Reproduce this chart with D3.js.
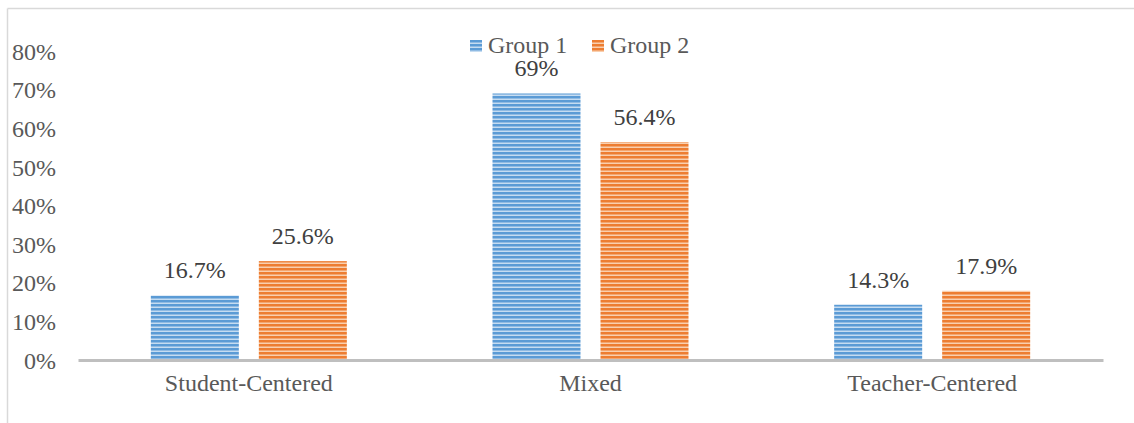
<!DOCTYPE html>
<html>
<head>
<meta charset="utf-8">
<script src="https://cdn.jsdelivr.net/npm/d3@7"></script>
<style>
  html, body { margin: 0; padding: 0; background: #fff; }
  svg { display: block; }
  text { font-family: "Liberation Serif", "Times New Roman", serif; }
</style>
</head>
<body>
<svg id="chart" width="1134" height="423"></svg>
<script>
// Teaching approach shares by group
const categories = ["Student-Centered", "Mixed", "Teacher-Centered"];
const seriesNames = ["Group 1", "Group 2"];
const group1 = [0.167, 0.69, 0.143];
const group2 = [0.256, 0.564, 0.179];
const valueLabels1 = ["16.7%", "69%", "14.3%"];
const valueLabels2 = ["25.6%", "56.4%", "17.9%"];
const yTicks = [0, 0.1, 0.2, 0.3, 0.4, 0.5, 0.6, 0.7, 0.8];

const colors = { "Group 1": ["#5b9bd5", "#c5dcf1"], "Group 2": ["#ed7d31", "#f9cfae"] };
const seriesValues = { "Group 1": group1, "Group 2": group2 };
const seriesLabels = { "Group 1": valueLabels1, "Group 2": valueLabels2 };

const svg = d3.select("#chart");

// Horizontal stripe fills
const defs = svg.append("defs");
seriesNames.forEach((s, i) => {
  const p = defs.append("pattern")
    .attr("id", "stripe" + i)
    .attr("patternUnits", "userSpaceOnUse")
    .attr("width", 8).attr("height", 4);
  p.append("rect").attr("width", 8).attr("height", 4).attr("fill", colors[s][0]);
  p.append("rect").attr("y", 2.5).attr("width", 8).attr("height", 1.5).attr("fill", colors[s][1]);
});

// Outer frame (top and left edges)
svg.append("line").attr("x1", 7.5).attr("x2", 1134).attr("y1", 8.5).attr("y2", 8.5)
  .attr("stroke", "#d9d9d9").attr("stroke-width", 1.5);
svg.append("line").attr("x1", 7.5).attr("x2", 7.5).attr("y1", 8.5).attr("y2", 423)
  .attr("stroke", "#d9d9d9").attr("stroke-width", 1.5);

const x = d3.scaleBand().domain(categories).range([78, 1103]).paddingInner(0).paddingOuter(0);
const xs = d3.scaleBand().domain(seriesNames).range([-98, 98]).paddingInner(20 / 108).paddingOuter(0);
const y = d3.scaleLinear().domain([0, 0.8]).range([360, 51]);

// Y axis labels
const yAxis = svg.append("g").attr("transform", "translate(56,0)")
  .call(d3.axisLeft(y).tickValues(yTicks).tickSize(0).tickPadding(0).tickFormat(d3.format(".0%")));
yAxis.select(".domain").remove();
yAxis.selectAll("text").attr("font-size", 24).attr("fill", "#595959")
  .attr("font-family", "Liberation Serif, serif").attr("dy", "0.34em");

// Bars
seriesNames.forEach((s, si) => {
  const vals = seriesValues[s];
  const g = svg.append("g");
  g.selectAll("rect").data(categories).join("rect")
    .attr("x", (c) => x(c) + x.bandwidth() / 2 + xs(s))
    .attr("y", (c, i) => y(vals[i]))
    .attr("width", xs.bandwidth())
    .attr("height", (c, i) => y(0) - y(vals[i]))
    .attr("fill", "url(#stripe" + si + ")");
  g.selectAll("text").data(categories).join("text")
    .attr("x", (c) => x(c) + x.bandwidth() / 2 + xs(s) + xs.bandwidth() / 2)
    .attr("y", (c, i) => y(vals[i]) - 17)
    .attr("text-anchor", "middle")
    .attr("font-size", 24).attr("fill", "#404040")
    .text((c, i) => seriesLabels[s][i]);
});

// X axis with baseline
const xAxis = svg.append("g").attr("transform", "translate(0,360)")
  .call(d3.axisBottom(x).tickSize(0).tickPadding(14).tickSizeOuter(0));
xAxis.select(".domain").attr("stroke", "#bfbfbf").attr("stroke-width", 3);
xAxis.selectAll("text").attr("font-size", 24).attr("fill", "#595959")
  .attr("font-family", "Liberation Serif, serif");

// Legend
const legendX = [470, 592];
seriesNames.forEach((s, i) => {
  svg.append("rect").attr("x", legendX[i]).attr("y", 40).attr("width", 12).attr("height", 12)
    .attr("fill", "url(#stripe" + i + ")");
  svg.append("text").attr("x", legendX[i] + 18).attr("y", 53)
    .attr("font-size", 24).attr("fill", "#595959").text(s);
});
</script>
</body>
</html>
